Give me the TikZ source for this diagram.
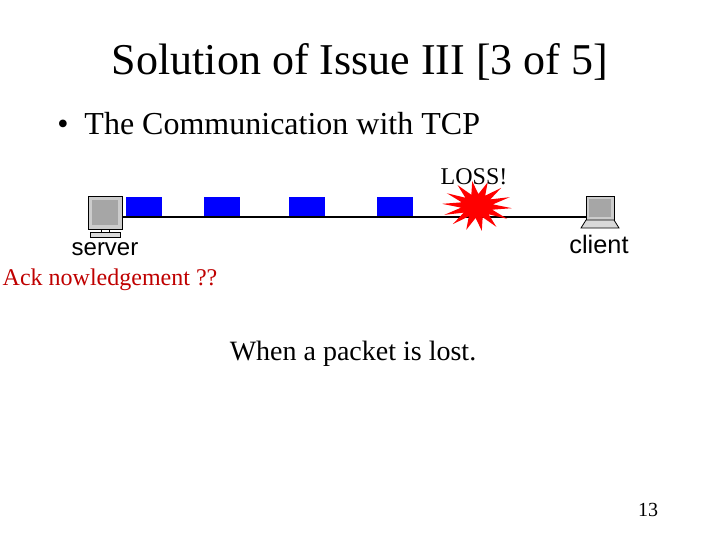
\documentclass[tikz,border=0pt]{standalone}
\usepackage{fontspec}
\setmainfont{Liberation Serif}
\newfontfamily\arialf{Liberation Sans}
\begin{document}
\begin{tikzpicture}[x=0.75pt,y=-0.75pt,
  pkt/.style={fill=blue,draw=none},
  lbl/.style={inner sep=0pt,anchor=center}]
\useasboundingbox (0,0) rectangle (720,540);
\node[lbl,font=\fontsize{33}{40}\selectfont] (title) at (360,62) {Solution of Issue III [3 of 5]};
\node[lbl,font=\fontsize{24}{28}\selectfont,anchor=west] (bullet) at (57,124) {\textbullet\ \ The Communication with TCP};
% link
\coordinate (ls) at (115,217);
\coordinate (le) at (588,217);
\draw[line width=2.2pt] (ls) -- (le);
\foreach \a/\b in {126/162,204/240,289/325,377/413}
  \fill[pkt] (\a,197) rectangle (\b,216);
% burst
\fill[red] plot[samples at={0,...,27},variable=\i] ({477+(mod(\i,2)==0?35:16)*cos(\i*360/28+5)}, {206+(mod(\i,2)==0?25:12)*sin(\i*360/28+5)}) -- cycle;
\node[lbl,font=\fontsize{18}{22}\selectfont] (loss) at (474,177) {LOSS!};
% server
\draw[fill=gray!40,line width=0.6pt] (88,196) rectangle (122,229);
\fill[gray!70] (92,200) rectangle (118,225);
\draw[line width=0.6pt] (101,229) -- (101,232) (109,229) -- (109,232);
\draw[fill=gray!30,line width=0.6pt] (90,232) rectangle (120,237);
\node[lbl,font=\arialf\fontsize{18}{22}\selectfont] (server) at (105,249) {server};
% client
\draw[fill=gray!40,line width=0.6pt] (586,196) rectangle (614,220);
\fill[gray!70] (589,199) rectangle (611,217);
\draw[fill=gray!30,line width=0.6pt] (586,220) -- (614,220) -- (619,228) -- (581,228) -- cycle;
\node[lbl,font=\arialf\fontsize{19}{22}\selectfont] (client) at (599,244) {client};
\node[lbl,font=\fontsize{18}{22}\selectfont,text=red!75!black] (ack) at (110,280) {Ack nowledgement ??};
\node[lbl,font=\fontsize{21}{25}\selectfont] (lost) at (353,354) {When a packet is lost.};
\node[lbl,font=\fontsize{15}{18}\selectfont] (num) at (648,510) {13};
\end{tikzpicture}
\end{document}
